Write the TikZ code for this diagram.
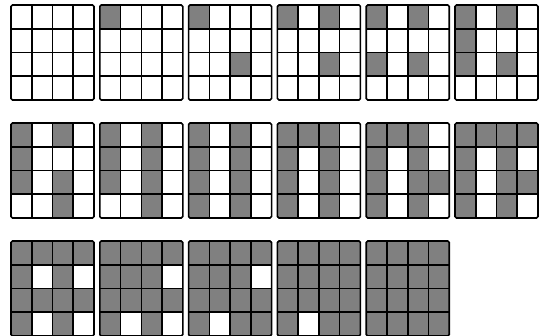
\documentclass[tikz,border=0pt]{standalone}
\begin{document}
\begin{tikzpicture}[x=1pt,y=-1pt,
  cellfill/.style={fill=black!50},
  gridline/.style={line width=1.6pt,black},
  frameline/.style={line width=1.6pt,black,rounded corners=1.5pt}]
\useasboundingbox (0,0) rectangle (545,335);
\def\cw{20.75}\def\ch{23.75}
\newcommand\dgrid[3]{%
  \begin{scope}[shift={({11+88.8*#1},{5+118*#2})}]
    \foreach \r/\c in {#3} {\fill[cellfill] ({\c*\cw},{\r*\ch}) rectangle ++(\cw,\ch);}
    \foreach \k in {1,2,3} {
      \draw[gridline] ({\k*\cw},0) -- ({\k*\cw},{4*\ch});
      \draw[gridline] (0,{\k*\ch}) -- ({4*\cw},{\k*\ch});
    }
    \draw[frameline] (0,0) rectangle ({4*\cw},{4*\ch});
  \end{scope}}
\dgrid{0}{0}{}
\dgrid{1}{0}{0/0}
\dgrid{2}{0}{0/0,2/2}
\dgrid{3}{0}{0/0,0/2,2/2}
\dgrid{4}{0}{0/0,0/2,2/0,2/2}
\dgrid{5}{0}{0/0,0/2,2/0,2/2,1/0}
\dgrid{0}{1}{0/0,0/2,2/0,2/2,1/0,3/2}
\dgrid{1}{1}{0/0,0/2,2/0,2/2,1/0,3/2,1/2}
\dgrid{2}{1}{0/0,0/2,2/0,2/2,1/0,3/2,1/2,3/0}
\dgrid{3}{1}{0/0,0/2,2/0,2/2,1/0,3/2,1/2,3/0,0/1}
\dgrid{4}{1}{0/0,0/2,2/0,2/2,1/0,3/2,1/2,3/0,0/1,2/3}
\dgrid{5}{1}{0/0,0/2,2/0,2/2,1/0,3/2,1/2,3/0,0/1,2/3,0/3}
\dgrid{0}{2}{0/0,0/2,2/0,2/2,1/0,3/2,1/2,3/0,0/1,2/3,0/3,2/1}
\dgrid{1}{2}{0/0,0/2,2/0,2/2,1/0,3/2,1/2,3/0,0/1,2/3,0/3,2/1,1/1}
\dgrid{2}{2}{0/0,0/2,2/0,2/2,1/0,3/2,1/2,3/0,0/1,2/3,0/3,2/1,1/1,3/3}
\dgrid{3}{2}{0/0,0/2,2/0,2/2,1/0,3/2,1/2,3/0,0/1,2/3,0/3,2/1,1/1,3/3,1/3}
\dgrid{4}{2}{0/0,0/2,2/0,2/2,1/0,3/2,1/2,3/0,0/1,2/3,0/3,2/1,1/1,3/3,1/3,3/1}
\end{tikzpicture}
\end{document}
